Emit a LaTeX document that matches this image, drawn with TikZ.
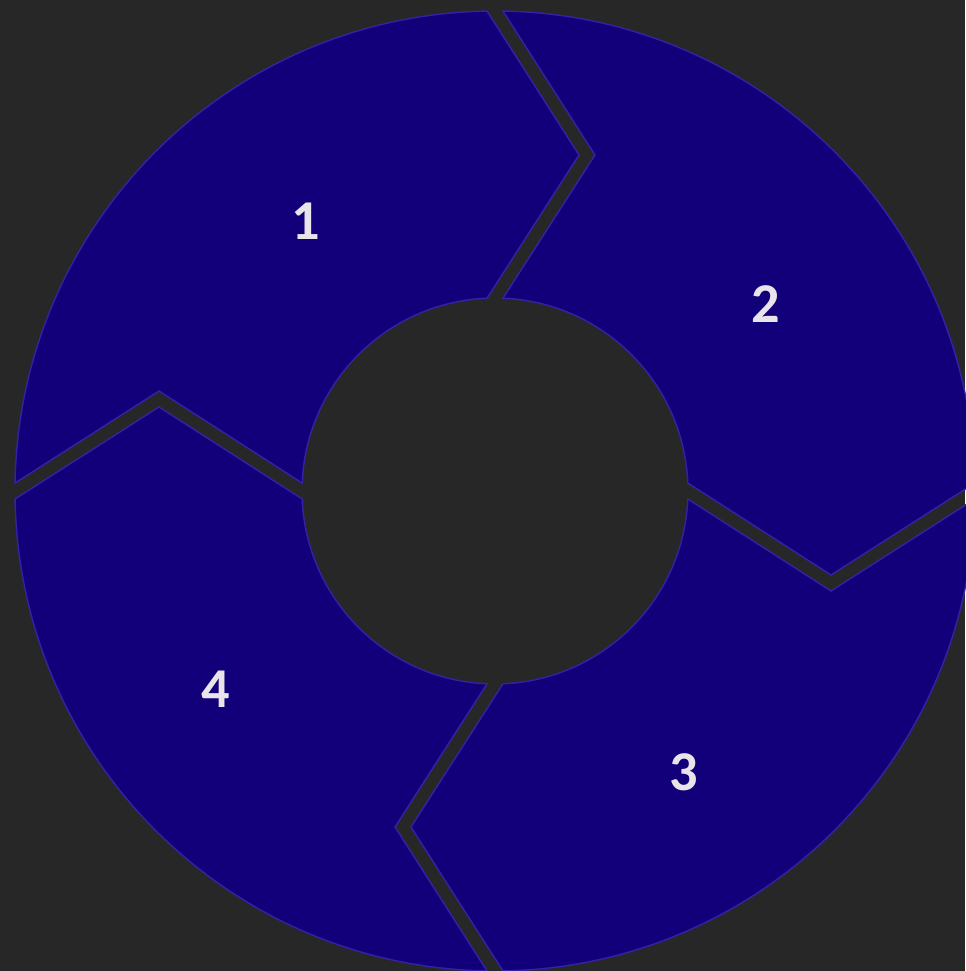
\documentclass[tikz,border=0pt]{standalone}
\usepackage{fontspec}
\setsansfont{Carlito}
\usetikzlibrary{positioning}
\definecolor{bgdark}{HTML}{282727}
\definecolor{segfill}{HTML}{12007A}
\definecolor{segline}{HTML}{3322A6}
\definecolor{numtext}{HTML}{E8E4EA}

\begin{document}
\begin{tikzpicture}[x=0.02cm,y=0.02cm,
  seg/.style={fill=segfill,draw=segline,line width=.8pt,line join=miter},
  num/.style={font=\sffamily\bfseries\fontsize{32}{38}\selectfont,
    text=numtext,inner sep=0pt}]
\fill[bgdark] (-495,-480) rectangle (470,491);
\useasboundingbox (-495,-480) rectangle (470,491);
% four arrow segments of the ring, each turned a quarter
\foreach \k in {0,...,3}{
  \begin{scope}[rotate=-90*\k]
  \draw[seg] (179.045:480) arc[start angle=179.045,end angle=90.955,radius=480]
    -- (84,336) -- (92.376:193) arc[start angle=92.376,end angle=177.624,radius=193]
    -- (-336,100) -- cycle;
  \end{scope}
}
\node[num] (one) at (-189,270) {1};
\node[num] (two) at (271,187) {2};
\node[num] (three) at (189,-281) {3};
\node[num] (four) at (-279,-198) {4};
\end{tikzpicture}
\end{document}
